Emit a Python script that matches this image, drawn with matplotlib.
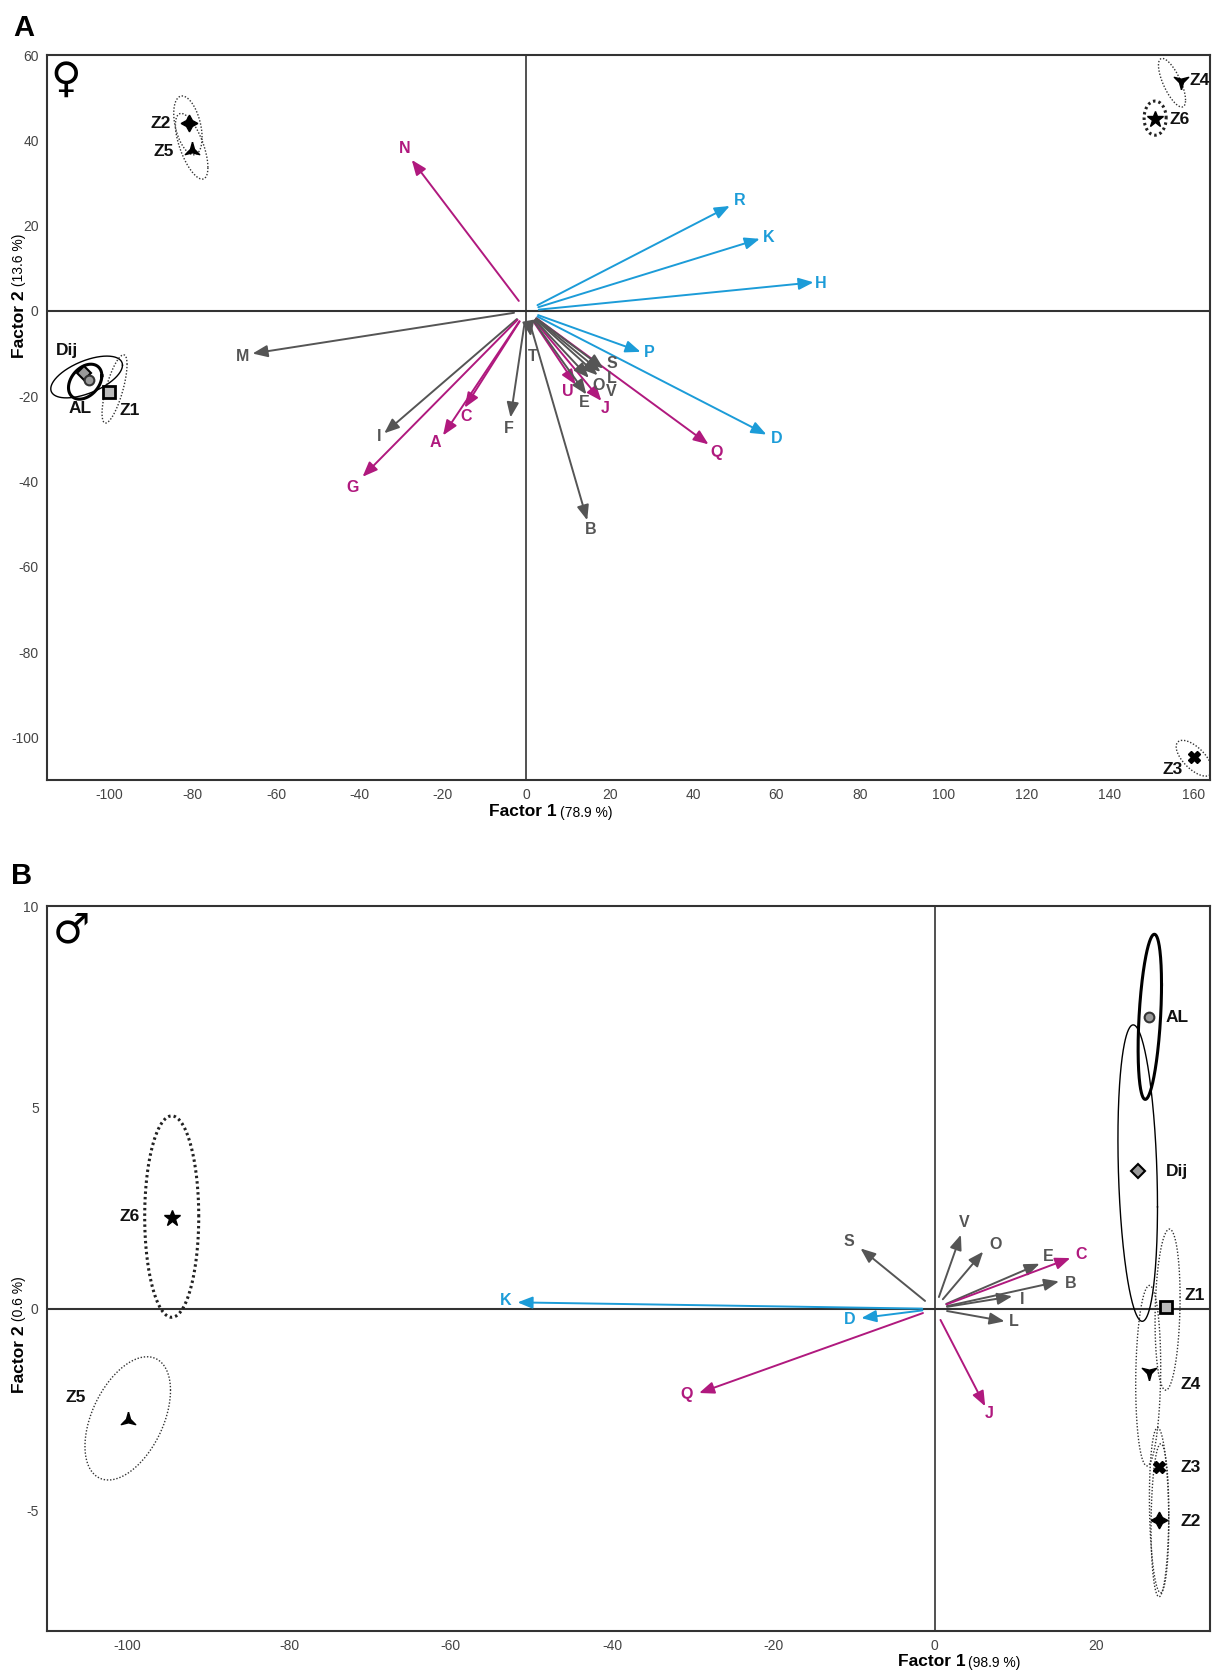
import numpy as np
import matplotlib
matplotlib.use("Agg")
import matplotlib.pyplot as plt
import matplotlib.transforms as mtransforms

plt.rcParams['font.family'] = ['Liberation Sans', 'DejaVu Sans']
plt.rcParams['axes.unicode_minus'] = False

GREY = '#555555'
MAG = '#B0197E'
CYAN = '#1C9CD8'
COLS = {'g': GREY, 'm': MAG, 'c': CYAN}

# ---- panel A (female): variable vectors
a_names = ['N', 'M', 'R', 'K', 'H', 'P', 'D', 'Q', 'J', 'U', 'E', 'O', 'V', 'L', 'S',
           'B', 'T', 'F', 'I', 'C', 'A', 'G']
a_kind = ['m', 'g', 'c', 'c', 'c', 'c', 'c', 'm', 'm', 'm', 'g', 'g', 'g', 'g', 'g',
          'g', 'g', 'g', 'g', 'm', 'm', 'm']
a_x = [-27.5, -65.7, 48.8, 56.0, 68.9, 27.4, 57.6, 43.7, 18.0, 11.8, 14.4, 15.0, 17.1, 17.8, 18.5,
       14.6, 1.1, -3.8, -34.1, -14.8, -20.0, -39.3]
a_y = [35.4, -10.0, 24.6, 16.9, 6.7, -9.6, -29.0, -31.3, -21.1, -17.3, -19.6, -15.7, -15.1, -14.3, -13.5,
       -49.1, -6.0, -25.0, -28.7, -22.7, -29.2, -38.9]
a_lx = [-29.2, -68.0, 51.1, 58.2, 70.7, 29.6, 60.0, 45.6, 18.8, 9.9, 13.9, 17.3, 20.4, 20.4, 20.6,
        15.5, 1.4, -4.2, -35.4, -14.4, -21.8, -41.8]
a_ly = [38.0, -10.8, 25.9, 17.2, 6.4, -9.8, -30.0, -33.1, -22.8, -18.8, -21.6, -17.4, -19.0, -15.9, -12.3,
        -51.3, -10.6, -27.6, -29.5, -24.8, -30.8, -41.3]

# ---- panel A groups: marker position, ellipse (cx, cy, rx, ry, tilt), label
a_groups = ['Z2', 'Z5', 'Z4', 'Z6', 'Z3', 'Dij', 'AL', 'Z1']
a_mx = [-81.0, -80.2, 157.1, 150.8, 160.2, -106.2, -105.0, -100.2]
a_my = [44.0, 37.7, 54.0, 45.0, -104.6, -14.5, -16.2, -19.0]
a_ecx = [-81.2, -80.3, 154.9, 150.85, 160.2, -105.5, -105.85, -98.8]
a_ecy = [43.5, 38.6, 53.5, 45.2, -104.9, -15.5, -16.6, -18.3]
a_erx = [3.4, 3.9, 3.25, 2.65, 4.3, 8.6, 4.0, 3.0]
a_ery = [6.9, 7.7, 5.7, 4.0, 4.2, 4.9, 4.1, 8.0]
a_etilt = [-0.42, -0.7, -0.8, 0.0, -0.7, 0.6, 0.35, 0.8]
a_glx = [-85.4, -84.6, 159.0, 154.4, 157.5, -110.1, -107.0, -97.6]
a_gly = [44.0, 37.3, 54.0, 44.9, -107.5, -9.2, -22.8, -23.4]
a_gha = ['right', 'right', 'left', 'left', 'right', 'center', 'center', 'left']

# ---- panel B (male): variable vectors
b_names = ['K', 'D', 'Q', 'J', 'L', 'I', 'B', 'E', 'C', 'V', 'O', 'S']
b_kind = ['c', 'c', 'm', 'm', 'g', 'g', 'g', 'g', 'm', 'g', 'g', 'g']
b_x = [-51.7, -9.1, -29.2, 6.25, 8.65, 9.6, 15.4, 13.0, 16.8, 3.24, 6.0, -9.2]
b_y = [0.16, -0.23, -2.09, -2.42, -0.31, 0.31, 0.68, 1.12, 1.26, 1.84, 1.42, 1.5]
b_lx = [-53.2, -10.5, -30.7, 6.7, 9.8, 10.8, 16.8, 14.1, 18.2, 3.6, 7.5, -10.6]
b_ly = [0.2, -0.27, -2.13, -2.6, -0.32, 0.22, 0.64, 1.3, 1.34, 2.14, 1.59, 1.67]

# ---- panel B groups
b_groups = ['Z6', 'Z5', 'AL', 'Dij', 'Z1', 'Z4', 'Z3', 'Z2']
b_mx = [-94.5, -100.0, 26.5, 25.2, 28.6, 26.5, 27.75, 27.75]
b_my = [2.26, -2.75, 7.24, 3.41, 0.04, -1.56, -3.93, -5.25]
b_ecx = [-94.55, -100.0, 26.65, 25.15, 28.85, 26.45, 27.8, 27.9]
b_ecy = [2.29, -2.72, 7.25, 3.37, -0.02, -1.66, -5.0, -5.25]
b_erx = [3.35, 5.3, 1.45, 2.45, 1.55, 1.55, 1.2, 1.1]
b_ery = [2.5, 1.53, 2.05, 3.68, 2.0, 2.24, 2.05, 1.9]
b_etilt = [0.0, 0.47, 0.4, -0.23, 0.15, 0.1, -0.15, 0.1]
b_glx = [-98.5, -105.2, 28.6, 28.6, 31.0, 30.5, 30.5, 30.5]
b_gly = [2.3, -2.2, 7.24, 3.42, 0.33, -1.88, -3.93, -5.29]
b_gha = ['right', 'right', 'left', 'left', 'left', 'left', 'left', 'left']


def tri_star(up=True):
    # three-armed filled star, one arm pointing up (or down)
    pts = []
    for i in range(6):
        ang = np.pi / 2 + i * np.pi / 3
        r = 1.0 if i % 2 == 0 else 0.28
        pts.append((r * np.cos(ang), r * np.sin(ang) if up else -r * np.sin(ang)))
    pts.append(pts[0])
    return pts


MARK = {
    'Z1': dict(marker='s', ms=8, mfc='#bbbbbb', mec='k', mew=2),
    'AL': dict(marker='o', ms=7, mfc='#999999', mec='#333333', mew=1.5),
    'Dij': dict(marker='D', ms=7, mfc='#999999', mec='k', mew=1.5),
    'Z2': dict(marker=(4, 1, 0), ms=12, mfc='k', mec='k'),
    'Z5': dict(marker=tri_star(True), ms=12, mfc='k', mec='k'),
    'Z4': dict(marker=tri_star(False), ms=12, mfc='k', mec='k'),
    'Z6': dict(marker='*', ms=12, mfc='k', mec='k'),
    'Z3': dict(marker='X', ms=9, mfc='k', mec='k'),
}
ELL = {
    'AL': dict(color='k', lw=2.2, ls='-'),
    'Dij': dict(color='k', lw=1.0, ls='-'),
    'Z6': dict(color='#222222', lw=2.2, ls=(0, (0.8, 1.0))),
}
ELL_DEF = dict(color='#333333', lw=1.0, ls=(0, (1, 1.3)))


def draw_ellipse(ax, cx, cy, rx, ry, tilt, **kw):
    t = np.linspace(0, 2 * np.pi, 300)
    ax.plot(cx + rx * np.cos(t), cy + ry * np.sin(t + tilt), **kw)


def panel(ax, names, kind, xs, ys, lxs, lys,
          groups, mx, my, ecx, ecy, erx, ery, etilt, glx, gly, gha):
    ax.axhline(0, color='#333333', lw=1.5, zorder=1)
    ax.axvline(0, color='#333333', lw=1.2, zorder=1)
    for n, k, x, y, lx, ly in zip(names, kind, xs, ys, lxs, lys):
        c = COLS[k]
        ax.annotate('', xy=(x, y), xytext=(0, 0),
                    arrowprops=dict(arrowstyle='-|>,head_length=0.75,head_width=0.3',
                                    color=c, lw=1.4, shrinkA=9, shrinkB=0,
                                    mutation_scale=12))
        ax.text(lx, ly, n, color=c, fontsize=11.5, fontweight='bold',
                ha='center', va='center')
    for i, g in enumerate(groups):
        draw_ellipse(ax, ecx[i], ecy[i], erx[i], ery[i], etilt[i], **ELL.get(g, ELL_DEF))
        ax.plot([mx[i]], [my[i]], ls='none', zorder=5, **MARK[g])
        ax.text(glx[i], gly[i], g, fontsize=12.5, fontweight='bold', color='#111111',
                ha=gha[i], va='center')
    for s in ax.spines.values():
        s.set_color('#333333')
        s.set_linewidth(1.5)
    ax.tick_params(length=0, pad=6, labelsize=10, colors='#444444')
    for lab in ax.get_xticklabels() + ax.get_yticklabels():
        lab.set_family(['Liberation Sans Narrow', 'Liberation Sans'])


fig = plt.figure(figsize=(12.12, 16.72), dpi=100)
axA = fig.add_axes([0.0388, 0.5335, 0.9595, 0.4336])
axB = fig.add_axes([0.0388, 0.0245, 0.9595, 0.4336])

axA.set_xlim(-115, 164)
axA.set_ylim(-110, 60)
axA.set_xticks(np.arange(-100, 161, 20))
axA.set_yticks(np.arange(-100, 61, 20))
axB.set_xlim(-110, 34.1)
axB.set_ylim(-8, 10)
axB.set_xticks(np.arange(-100, 21, 20))
axB.set_yticks([-5, 0, 5, 10])

panel(axA, a_names, a_kind, a_x, a_y, a_lx, a_ly,
      a_groups, a_mx, a_my, a_ecx, a_ecy, a_erx, a_ery, a_etilt, a_glx, a_gly, a_gha)
panel(axB, b_names, b_kind, b_x, b_y, b_lx, b_ly,
      b_groups, b_mx, b_my, b_ecx, b_ecy, b_erx, b_ery, b_etilt, b_glx, b_gly, b_gha)

# sex symbols and panel letters
axA.text(0.0163, 0.966, '\u2640', transform=axA.transAxes, fontsize=30, fontweight='bold',
         family='DejaVu Sans', ha='center', va='center')
axB.text(0.021, 0.966, '\u2642', transform=axB.transAxes, fontsize=30, fontweight='bold',
         family='DejaVu Sans', ha='center', va='center')
fig.text(0.0194, 0.983, 'A', fontsize=21, fontweight='bold', ha='center', va='center')
fig.text(0.0176, 0.476, 'B', fontsize=21, fontweight='bold', ha='center', va='center')

# axis titles: bold factor name + regular percentage
narrow = ['Liberation Sans Narrow', 'Liberation Sans']
for ax, xlab, xpct, xy_fig, ylab, ypct, ysplit in [
        (axA, 'Factor 1', '(78.9 %)', 0.5144, 'Factor 2', '(13.6 %)', 4.9),
        (axB, 'Factor 1', '(98.9 %)', 0.0060, 'Factor 2', '(0.6 %)', -0.4)]:
    tr = mtransforms.blended_transform_factory(ax.transData, fig.transFigure)
    ax.annotate(xlab, xy=(0, xy_fig), xycoords=tr, xytext=(22, 0), textcoords='offset points',
                ha='right', va='center', fontsize=12.5, fontweight='bold', family=narrow,
                annotation_clip=False)
    ax.annotate(xpct, xy=(0, xy_fig), xycoords=tr, xytext=(24, -1), textcoords='offset points',
                ha='left', va='center', fontsize=10, family=narrow, annotation_clip=False)
    tr2 = mtransforms.blended_transform_factory(fig.transFigure, ax.transData)
    fig.text(0.0157, ysplit, ylab, transform=tr2, rotation=90, ha='center', va='top',
             fontsize=12.5, fontweight='bold')
    fig.text(0.0157, ysplit, ' ' + ypct, transform=tr2, rotation=90, ha='center', va='bottom',
             fontsize=10)

fig.savefig('out.png', dpi=100)
